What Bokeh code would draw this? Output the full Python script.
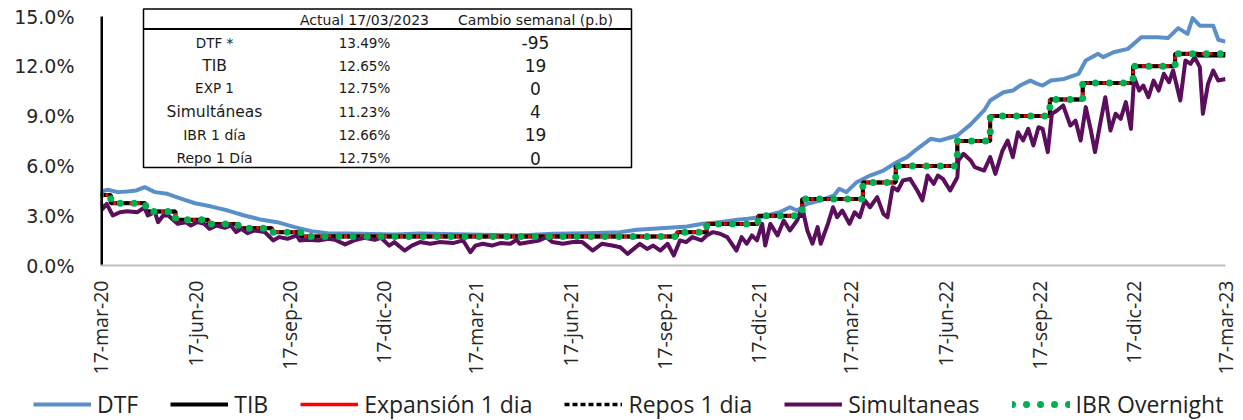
import math
import pandas as pd
from bokeh.plotting import figure
from bokeh.layouts import column
from bokeh.models import (Range1d, FixedTicker, PrintfTickFormatter, Legend, LegendItem,
                          BoxAnnotation, Label)
from bokeh.embed import file_html
from bokeh.resources import INLINE

# ---------------- data ----------------
START = "2020-03-17"
END = "2023-03-17"

xtick_dates = ["2020-03-17", "2020-06-17", "2020-09-17", "2020-12-17", "2021-03-17", "2021-06-17",
               "2021-09-17", "2021-12-17", "2022-03-17", "2022-06-17", "2022-09-17", "2022-12-17",
               "2023-03-17"]
xtick_labels = ["17-mar-20", "17-jun-20", "17-sep-20", "17-dic-20", "17-mar-21", "17-jun-21",
                "17-sep-21", "17-dic-21", "17-mar-22", "17-jun-22", "17-sep-22", "17-dic-22",
                "17-mar-23"]
ytick_values = [0, 3, 6, 9, 12, 15]

# (days since 17-mar-2020, %)
dtf = [(0, 4.45), (7, 4.56), (17, 4.42), (26, 4.46), (35, 4.52), (43, 4.72), (53, 4.42), (65, 4.32),
       (79, 4.02), (92, 3.75), (108, 3.55), (124, 3.31), (140, 3.01), (157, 2.75), (172, 2.61),
       (189, 2.31), (205, 2.07), (221, 1.95), (254, 1.91), (286, 1.87), (311, 1.93), (359, 1.87),
       (408, 1.81), (440, 1.91), (473, 1.95), (506, 2.01), (522, 2.15), (538, 2.21), (571, 2.35),
       (586, 2.51), (603, 2.61), (620, 2.75), (630, 2.81), (642, 2.91), (661, 3.21), (671, 3.51),
       (678, 3.31), (688, 3.71), (701, 3.92), (714, 4.22), (719, 4.62), (726, 4.42), (736, 5.02),
       (749, 5.42), (762, 5.72), (775, 6.22), (785, 6.53), (795, 7.03), (808, 7.63), (817, 7.53),
       (834, 7.83), (847, 8.50), (860, 9.34), (866, 9.94), (879, 10.44), (888, 10.54), (895, 10.84),
       (905, 11.14), (912, 10.94), (917, 10.84), (925, 11.14), (938, 11.24), (952, 11.55),
       (959, 12.35), (971, 12.75), (976, 12.55), (986, 12.85), (1000, 13.05), (1013, 13.75),
       (1029, 13.75), (1039, 13.70), (1049, 14.30), (1058, 13.95), (1063, 14.90), (1070, 14.45),
       (1083, 14.45), (1088, 13.60), (1095, 13.49)]

# policy-linked rates (step changes): day, level
policy_day = [0, 10, 44, 73, 105, 134, 167, 195, 561, 590, 640, 683, 742, 774, 834, 866, 924, 956,
              1005, 1046, 1095]
policy_rate = [4.25, 3.75, 3.25, 2.75, 2.50, 2.25, 2.00, 1.75, 2.00, 2.50, 3.00, 4.00, 5.00, 6.00,
               7.50, 9.00, 10.00, 11.00, 12.00, 12.75, 12.75]
tib_day = [0, 10, 44, 73, 105, 134, 167, 195, 561, 590, 640, 683, 742, 774, 834, 866, 924, 956,
           1005, 1046, 1068, 1095]
tib_rate = [4.25, 3.75, 3.25, 2.75, 2.50, 2.25, 2.00, 1.75, 2.00, 2.50, 3.00, 4.00, 5.00, 6.00,
            7.50, 9.00, 10.00, 11.00, 12.00, 12.75, 12.65, 12.65]
ibr_rate = [4.25, 3.75, 3.25, 2.75, 2.50, 2.25, 2.00, 1.75, 2.00, 2.50, 3.00, 4.00, 5.00, 6.00,
            7.50, 9.00, 10.00, 11.00, 12.00, 12.75, 12.66]

simultaneas = [
    (0, 3.92), (2, 3.41), (6, 3.71), (12, 3.01), (19, 3.21), (26, 3.27), (36, 3.21), (43, 3.51),
    (46, 3.01), (53, 3.21), (56, 2.61), (61, 3.01), (66, 3.01), (75, 2.51), (83, 2.61), (88, 2.41),
    (94, 2.61), (101, 2.51), (106, 2.21), (113, 2.41), (121, 2.27), (127, 2.41), (132, 2.01),
    (137, 2.21), (143, 1.95), (150, 2.11), (160, 2.01), (168, 1.51), (174, 1.71), (182, 1.61),
    (191, 1.81), (194, 1.51), (202, 1.55), (212, 1.51), (222, 1.61), (228, 1.55), (238, 1.27),
    (247, 1.51), (257, 1.67), (267, 1.55), (273, 1.67), (281, 1.20), (286, 1.41), (296, 0.90),
    (303, 1.20), (311, 1.41), (321, 1.31), (330, 1.41), (343, 1.35), (353, 1.51), (360, 0.80),
    (365, 1.20), (372, 1.31), (381, 1.20), (389, 1.35), (399, 1.31), (405, 1.55), (408, 1.31),
    (418, 1.41), (427, 1.51), (434, 1.71), (440, 1.41), (450, 1.31), (460, 1.41), (469, 1.41),
    (479, 0.90), (488, 1.31), (498, 1.20), (506, 1.10), (513, 0.70), (519, 1.00), (525, 1.31),
    (532, 1.00), (538, 1.20), (545, 0.90), (552, 1.31), (558, 0.60), (564, 1.51), (570, 1.41),
    (576, 1.71), (585, 1.51), (590, 1.81), (596, 2.01), (603, 1.91), (610, 1.71), (619, 0.90),
    (624, 1.71), (629, 1.31), (634, 1.81), (639, 1.51), (644, 2.51), (647, 1.20), (652, 2.51),
    (659, 1.81), (665, 2.71), (671, 2.11), (678, 2.71), (683, 3.51), (688, 2.11), (693, 1.31),
    (698, 2.31), (701, 1.31), (708, 2.51), (713, 3.51), (717, 2.91), (722, 3.31), (729, 2.51),
    (734, 3.21), (739, 2.91), (744, 3.92), (749, 3.51), (756, 4.12), (762, 3.11), (766, 2.91),
    (771, 4.72), (776, 4.52), (781, 5.12), (788, 5.22), (795, 4.52), (800, 3.92), (805, 5.42),
    (811, 4.92), (815, 5.42), (820, 5.22), (827, 4.52), (834, 5.32), (835, 6.33), (840, 6.73),
    (847, 6.33), (851, 5.92), (860, 5.72), (866, 6.53), (871, 5.52), (878, 6.93), (883, 7.53),
    (888, 6.53), (893, 8.03), (898, 7.53), (903, 8.23), (908, 7.23), (913, 8.33), (917, 8.23),
    (922, 6.83), (926, 9.14), (931, 9.34), (937, 9.64), (944, 8.43), (949, 8.73), (954, 7.53),
    (959, 9.54), (964, 8.13), (968, 6.83), (973, 8.53), (978, 10.14), (983, 8.13), (988, 9.14),
    (993, 8.83), (998, 9.84), (1003, 8.23), (1006, 11.35), (1011, 10.54), (1015, 10.84),
    (1020, 10.14), (1025, 11.14), (1030, 10.54), (1035, 11.55), (1040, 11.04), (1044, 11.75),
    (1051, 9.94), (1056, 12.35), (1061, 12.15), (1065, 12.55), (1070, 11.95), (1073, 9.14),
    (1078, 10.94), (1083, 11.75), (1088, 11.14), (1095, 11.23)]

table_header = ["Actual 17/03/2023", "Cambio semanal (p.b)"]
table_names = ["DTF *", "TIB", "EXP 1", "Simultáneas", "IBR 1 día", "Repo 1 Día"]
table_actual = ["13.49%", "12.65%", "12.75%", "11.23%", "12.66%", "12.75%"]
table_cambio = ["-95", "19", "0", "4", "19", "0"]

legend_labels = ["DTF", "TIB", "Expansión 1 dia", "Repos 1 dia", "Simultaneas", "IBR Overnight"]

# ---------------- styles ----------------
STY = [
    dict(kind="line", line_color="#5b8fc8", line_width=4, line_join="round"),
    dict(kind="step", line_color="black", line_width=4),
    dict(kind="step", line_color="#ff0000", line_width=3.5),
    dict(kind="step", line_color="black", line_width=3.5, line_dash="5 3"),
    dict(kind="line", line_color="#5a0e5c", line_width=4, line_join="round"),
    dict(kind="step", line_color="#00b050", line_width=7, line_dash="0 14", line_cap="round"),
]

# ---------------- helpers ----------------
base = pd.Timestamp(START)


def to_dates(days):
    return [base + pd.Timedelta(days=int(d)) for d in days]


dtf_x = to_dates([d for d, _ in dtf])
dtf_y = [v for _, v in dtf]
sim_x = to_dates([d for d, _ in simultaneas])
sim_y = [v for _, v in simultaneas]
pol_x = to_dates(policy_day)
tib_x = to_dates(tib_day)

tick_ms = [int(pd.Timestamp(d).value // 10**6) for d in xtick_dates]

FRAME_TOP_PAD = 16      # px of frame above the 15% gridline
FRAME_H = 265
y_top = ytick_values[-1] * FRAME_H / (FRAME_H - FRAME_TOP_PAD)


def draw(fig, sty, x, y):
    kw = {k: v for k, v in sty.items() if k != "kind"}
    if sty["kind"] == "step":
        return fig.step(x, y, mode="after", **kw)
    return fig.line(x, y, **kw)


# ---------------- main figure ----------------
p = figure(width=1243, height=378, x_axis_type="datetime",
           x_range=Range1d(pd.Timestamp(START), pd.Timestamp(END)),
           y_range=Range1d(0, y_top),
           output_backend="svg", toolbar_location=None,
           min_border_left=100, min_border_right=18, min_border_top=0, min_border_bottom=113)
p.frame_align = False
p.outline_line_color = None
p.grid.visible = False
p.background_fill_color = "white"
p.border_fill_color = "white"

series = [(dtf_x, dtf_y), (tib_x, tib_rate), (pol_x, policy_rate), (pol_x, policy_rate),
          (sim_x, sim_y), (pol_x, ibr_rate)]
for sty, (sx, sy) in zip(STY, series):
    draw(p, sty, sx, sy)

# y axis line from 0 % to 15 %
p.segment(x0=[pd.Timestamp(START)], y0=[ytick_values[0]], x1=[pd.Timestamp(START)],
          y1=[ytick_values[-1]], line_color="black", line_width=5)

# axes
xa = p.xaxis[0]
xa.ticker = FixedTicker(ticks=tick_ms)
xa.major_label_overrides = {t: l for t, l in zip(tick_ms, xtick_labels)}
xa.major_label_orientation = math.pi / 2
xa.major_tick_line_color = None
xa.minor_tick_line_color = None
xa.major_tick_out = 0
xa.major_tick_in = 0
xa.major_label_standoff = 15
xa.axis_line_color = "#bfbfbf"
xa.axis_line_width = 2
xa.major_label_text_font = "Open Sans"
xa.major_label_text_font_size = "19.5px"
xa.major_label_text_color = "#262626"

ya = p.yaxis[0]
ya.ticker = FixedTicker(ticks=ytick_values)
ya.formatter = PrintfTickFormatter(format="%.1f%%")
ya.axis_line_color = None
ya.major_tick_line_color = None
ya.minor_tick_line_color = None
ya.major_tick_out = 0
ya.major_tick_in = 0
ya.major_label_standoff = 26
ya.major_label_text_font = "DejaVu Sans"
ya.major_label_text_font_size = "19px"
ya.major_label_text_color = "#262626"

# summary table (screen units relative to the plot frame: x from left, y from bottom)
SCR = dict(left_units="screen", right_units="screen", top_units="screen", bottom_units="screen")
p.add_layout(BoxAnnotation(left=43, right=531, bottom=98, top=256.5, fill_color="white",
                           fill_alpha=1, line_color="black", line_width=1.5, line_alpha=1, **SCR))
p.add_layout(BoxAnnotation(left=43, right=531, bottom=235.5, top=237.5, fill_color="black",
                           fill_alpha=1, line_color=None, **SCR))

col_x = [114, 264, 435]
row_y = [222.7, 200, 177.3, 154, 130.7, 107.3]
name_sizes = ["13.5px", "15.5px", "13.5px", "15.5px", "14px", "14px"]
for hx, txt in zip(col_x[1:], table_header):
    p.add_layout(Label(x=hx, y=246, x_units="screen", y_units="screen", text=txt,
                       text_align="center", text_baseline="middle", text_font="DejaVu Sans",
                       text_font_size="14px", text_color="#1a1a1a"))
for i, ry in enumerate(row_y):
    p.add_layout(Label(x=col_x[0], y=ry, x_units="screen", y_units="screen", text=table_names[i],
                       text_align="center", text_baseline="middle", text_font="DejaVu Sans",
                       text_font_size=name_sizes[i], text_color="#1a1a1a"))
    p.add_layout(Label(x=col_x[1], y=ry, x_units="screen", y_units="screen", text=table_actual[i],
                       text_align="center", text_baseline="middle", text_font="DejaVu Sans",
                       text_font_size="13.5px", text_color="#1a1a1a"))
    p.add_layout(Label(x=col_x[2], y=ry, x_units="screen", y_units="screen", text=table_cambio[i],
                       text_align="center", text_baseline="middle", text_font="DejaVu Sans",
                       text_font_size="17px", text_color="#1a1a1a"))

# ---------------- legend strip ----------------
lf = figure(width=1243, height=42, x_range=Range1d(0, 1), y_range=Range1d(0, 1),
            x_axis_location=None, y_axis_location=None,
            output_backend="svg", toolbar_location=None, min_border=0)
lf.frame_align = False
lf.outline_line_color = None
lf.grid.visible = False
lf.background_fill_color = "white"
lf.border_fill_color = "white"
items = []
for sty, lbl in zip(STY, legend_labels):
    r = draw(lf, sty, [float("nan")], [float("nan")])
    items.append(LegendItem(label=lbl, renderers=[r]))
legend = Legend(items=items, location=(33, 0), orientation="horizontal",
                glyph_width=58, glyph_height=20, label_standoff=6, spacing=32,
                padding=0, margin=0, border_line_color=None, background_fill_alpha=0,
                label_text_font="Open Sans", label_text_font_size="23px",
                label_text_color="#1f1f1f")
lf.add_layout(legend)

layout = column(p, lf, spacing=0)
open("out.html", "w").write(file_html(layout, INLINE))
